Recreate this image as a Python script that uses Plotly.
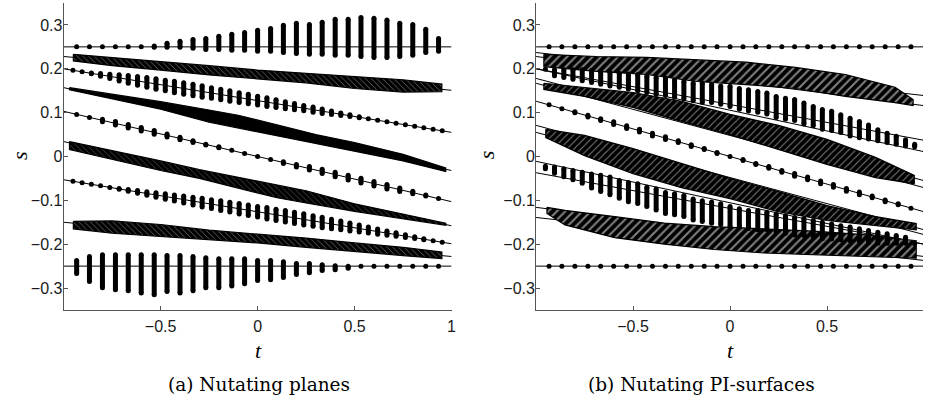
import plotly.graph_objects as go

# ---- sampling grids (column positions in t) ----
T29 = [-0.933, -0.867, -0.8, -0.733, -0.667, -0.6, -0.533, -0.467, -0.4, -0.333,
       -0.267, -0.2, -0.133, -0.067, 0.0, 0.067, 0.133, 0.2, 0.267, 0.333,
       0.4, 0.467, 0.533, 0.6, 0.667, 0.733, 0.8, 0.867, 0.933]
T41 = [-0.952, -0.905, -0.857, -0.81, -0.762, -0.714, -0.667, -0.619, -0.571, -0.524,
       -0.476, -0.429, -0.381, -0.333, -0.286, -0.238, -0.19, -0.143, -0.095, -0.048,
       0.0, 0.048, 0.095, 0.143, 0.19, 0.238, 0.286, 0.333, 0.381, 0.429,
       0.476, 0.524, 0.571, 0.619, 0.667, 0.714, 0.762, 0.81, 0.857, 0.905, 0.952]

# ---- panel (a): nutating planes ----
A_LINE_START = [0.25, 0.228, 0.200, 0.157, 0.103, 0.034, -0.053, -0.150, -0.25]
A_LINE_END = [0.25, 0.151, 0.055, -0.032, -0.103, -0.158, -0.199, -0.228, -0.25]

A1_HIGH = [0.25, 0.25, 0.25, 0.25, 0.25, 0.25, 0.252, 0.258, 0.263, 0.267, 0.269, 0.274, 0.279, 0.283, 0.288,
           0.292, 0.299, 0.304, 0.301, 0.306, 0.313, 0.313, 0.317, 0.315, 0.311, 0.304, 0.301, 0.290, 0.269]
A1_LOW = [0.25, 0.25, 0.25, 0.25, 0.25, 0.25, 0.249, 0.249, 0.249, 0.247, 0.244, 0.244, 0.242, 0.242, 0.240,
          0.240, 0.237, 0.235, 0.233, 0.233, 0.231, 0.231, 0.228, 0.226, 0.226, 0.228, 0.231, 0.237, 0.240]

A3_MID = [0.1965, 0.1931, 0.1896, 0.1862, 0.1827, 0.1793, 0.1758, 0.1724, 0.1689, 0.1655, 0.1620,
          0.1586, 0.1551, 0.1517, 0.1482, 0.1448, 0.1413, 0.1379, 0.1344, 0.1310, 0.1275, 0.1240,
          0.1206, 0.1171, 0.1137, 0.1102, 0.1068, 0.1033, 0.0999, 0.0964, 0.0930, 0.0895, 0.0861,
          0.0826, 0.0792, 0.0757, 0.0723, 0.0688, 0.0654, 0.0619, 0.0585]
A3_HALF = [0, 0, 0.001, 0.003, 0.005, 0.007, 0.009, 0.010, 0.011, 0.012, 0.012, 0.013, 0.013, 0.013,
           0.013, 0.012, 0.012, 0.012, 0.011, 0.011, 0.010, 0.010, 0.009, 0.008, 0.007, 0.006, 0.006,
           0.005, 0.004, 0.003, 0.002, 0.001, 0, 0, 0, 0, 0, 0, 0, 0, 0]

A5_MID = [0.096, 0.089, 0.082, 0.076, 0.069, 0.062, 0.055, 0.048, 0.041, 0.034, 0.027, 0.021, 0.014, 0.007,
          0.0, -0.007, -0.014, -0.021, -0.027, -0.034, -0.041, -0.048, -0.055, -0.062, -0.069, -0.076,
          -0.082, -0.089, -0.096]
A5_HALF = [0, 0, 0.003, 0.004, 0.004, 0.004, 0.004, 0.0035, 0.003, 0.002, 0.001, 0.001, 0, 0, 0, 0,
           0.002, 0.003, 0.004, 0.005, 0.005, 0.0055, 0.0055, 0.005, 0.005, 0.004, 0.003, 0.001, 0]

A7_MID = [-0.0565, -0.0600, -0.0634, -0.0669, -0.0704, -0.0739, -0.0773, -0.0808, -0.0843, -0.0878,
          -0.0912, -0.0947, -0.0982, -0.1017, -0.1051, -0.1086, -0.1121, -0.1156, -0.1190, -0.1225,
          -0.1260, -0.1295, -0.1330, -0.1364, -0.1399, -0.1434, -0.1469, -0.1503, -0.1538, -0.1573,
          -0.1608, -0.1642, -0.1677, -0.1712, -0.1747, -0.1781, -0.1816, -0.1851, -0.1886, -0.1920, -0.1955]
A7_HALF = [0, 0, 0, 0, 0, 0.001, 0.002, 0.003, 0.004, 0.005, 0.006, 0.007, 0.008, 0.009, 0.010, 0.010,
           0.011, 0.011, 0.012, 0.012, 0.012, 0.013, 0.013, 0.013, 0.013, 0.013, 0.012, 0.012, 0.011,
           0.010, 0.009, 0.008, 0.007, 0.006, 0.005, 0.004, 0.003, 0.002, 0.001, 0, 0]

A9_HIGH = [-0.237, -0.228, -0.224, -0.224, -0.224, -0.224, -0.224, -0.226, -0.226, -0.228, -0.231, -0.233,
           -0.233, -0.233, -0.237, -0.237, -0.240, -0.244, -0.244, -0.247, -0.249, -0.25, -0.25, -0.25,
           -0.25, -0.25, -0.25, -0.25, -0.25]
A9_LOW = [-0.267, -0.285, -0.299, -0.304, -0.306, -0.311, -0.315, -0.308, -0.311, -0.306, -0.299, -0.299,
          -0.295, -0.290, -0.283, -0.281, -0.276, -0.269, -0.265, -0.260, -0.258, -0.255, -0.25, -0.25,
          -0.25, -0.25, -0.25, -0.25, -0.25]

A2_T = [-0.95, -0.75, -0.5, -0.25, 0.0, 0.25, 0.5, 0.75, 0.95]
A2_UP = [0.233, 0.226, 0.217, 0.207, 0.197, 0.190, 0.182, 0.175, 0.165]
A2_DN = [0.218, 0.207, 0.197, 0.186, 0.177, 0.168, 0.155, 0.147, 0.148]
A4_T = [-0.97, -0.75, -0.5, -0.25, -0.1, 0.1, 0.3, 0.5, 0.75, 0.97]
A4_UP = [0.157, 0.142, 0.125, 0.106, 0.094, 0.072, 0.050, 0.032, 0.005, -0.026]
A4_DN = [0.152, 0.132, 0.108, 0.078, 0.066, 0.048, 0.030, 0.012, -0.010, -0.034]
A6_T = [-0.97, -0.75, -0.5, -0.3, -0.1, 0.1, 0.25, 0.5, 0.75, 0.97]
A6_UP = [0.034, 0.014, -0.010, -0.030, -0.048, -0.066, -0.078, -0.108, -0.132, -0.152]
A6_DN = [0.016, -0.006, -0.032, -0.050, -0.072, -0.094, -0.106, -0.125, -0.142, -0.157]
A8_T = [-0.95, -0.75, -0.5, -0.25, 0.0, 0.25, 0.5, 0.75, 0.95]
A8_UP = [-0.148, -0.147, -0.155, -0.168, -0.177, -0.186, -0.197, -0.207, -0.218]
A8_DN = [-0.165, -0.175, -0.182, -0.190, -0.197, -0.207, -0.217, -0.226, -0.233]

# ---- panel (b): nutating PI-surfaces ----
B_LINE_START = [0.25, 0.237, 0.228, 0.2, 0.2, 0.178, 0.167, 0.126, 0.071, 0.055, -0.011, -0.037,
                -0.116, -0.139, -0.25]
B_LINE_END = [0.25, 0.139, 0.116, 0.037, 0.011, -0.055, -0.071, -0.126, -0.167, -0.178, -0.2, -0.2,
              -0.228, -0.237, -0.25]

B1_S = [0.25] * 29
B9_S = [-0.25] * 29

B3_HIGH = [0.199, 0.198, 0.198, 0.198, 0.198, 0.196, 0.194, 0.192, 0.190, 0.188, 0.187, 0.183, 0.180,
           0.179, 0.175, 0.171, 0.167, 0.167, 0.164, 0.161, 0.160, 0.155, 0.152, 0.148, 0.145, 0.137,
           0.133, 0.130, 0.122, 0.114, 0.107, 0.103, 0.095, 0.087, 0.080, 0.072, 0.061, 0.053, 0.046,
           0.038, 0.028]
B3_LOW = [0.199, 0.184, 0.180, 0.176, 0.173, 0.169, 0.165, 0.161, 0.158, 0.154, 0.150, 0.146, 0.142,
          0.139, 0.135, 0.131, 0.127, 0.123, 0.123, 0.119, 0.114, 0.108, 0.104, 0.101, 0.097, 0.089,
          0.085, 0.082, 0.074, 0.070, 0.062, 0.059, 0.055, 0.047, 0.043, 0.040, 0.036, 0.032, 0.028,
          0.024, 0.022]

B5_MID = [0.118, 0.109, 0.101, 0.092, 0.084, 0.076, 0.067, 0.059, 0.050, 0.042, 0.034, 0.025, 0.017,
          0.008, 0.0, -0.008, -0.017, -0.025, -0.034, -0.042, -0.050, -0.059, -0.067, -0.076, -0.084,
          -0.092, -0.101, -0.109, -0.118]
B5_HALF = [0, 0, 0.001, 0.002, 0.002, 0.003, 0.003, 0.003, 0.003, 0.003, 0.002, 0.002, 0.001, 0.001,
           0, 0.001, 0.001, 0.002, 0.002, 0.003, 0.003, 0.003, 0.003, 0.003, 0.003, 0.002, 0.002, 0.001, 0]

B7_HIGH = [-0.022, -0.024, -0.028, -0.032, -0.036, -0.040, -0.043, -0.047, -0.055, -0.059, -0.062,
           -0.070, -0.074, -0.082, -0.085, -0.089, -0.097, -0.101, -0.104, -0.108, -0.114, -0.119,
           -0.123, -0.123, -0.127, -0.131, -0.135, -0.139, -0.142, -0.146, -0.150, -0.154, -0.158,
           -0.161, -0.165, -0.169, -0.173, -0.176, -0.180, -0.184, -0.199]
B7_LOW = [-0.028, -0.038, -0.046, -0.053, -0.061, -0.072, -0.080, -0.087, -0.095, -0.103, -0.107,
          -0.114, -0.122, -0.130, -0.133, -0.137, -0.145, -0.148, -0.152, -0.155, -0.160, -0.161,
          -0.164, -0.167, -0.167, -0.171, -0.175, -0.179, -0.180, -0.183, -0.187, -0.188, -0.190,
          -0.192, -0.194, -0.196, -0.198, -0.198, -0.198, -0.198, -0.199]

B2_T = [-0.96, -0.687, -0.43, -0.174, 0.082, 0.338, 0.595, 0.851, 0.944]
B2_UP = [0.233, 0.228, 0.226, 0.221, 0.215, 0.203, 0.187, 0.158, 0.130]
B2_DN = [0.205, 0.194, 0.187, 0.171, 0.164, 0.155, 0.137, 0.123, 0.116]
B4_T = [-0.96, -0.75, -0.5, -0.25, 0.0, 0.25, 0.5, 0.75, 0.95]
B4_UP = [0.167, 0.158, 0.146, 0.126, 0.096, 0.071, 0.039, -0.002, -0.043]
B4_DN = [0.153, 0.137, 0.112, 0.080, 0.050, 0.016, -0.018, -0.048, -0.062]
B6_T = [-0.95, -0.75, -0.5, -0.25, 0.0, 0.25, 0.5, 0.75, 0.96]
B6_UP = [0.062, 0.048, 0.018, -0.016, -0.050, -0.080, -0.112, -0.137, -0.153]
B6_DN = [0.043, 0.002, -0.039, -0.071, -0.096, -0.126, -0.146, -0.158, -0.167]
B8_T = [-0.944, -0.851, -0.595, -0.338, -0.082, 0.174, 0.43, 0.687, 0.96]
B8_UP = [-0.116, -0.123, -0.137, -0.152, -0.160, -0.165, -0.170, -0.178, -0.192]
B8_DN = [-0.130, -0.156, -0.185, -0.200, -0.212, -0.220, -0.225, -0.228, -0.232]

Y_TICKS = [-0.3, -0.2, -0.1, 0.0, 0.1, 0.2, 0.3]
Y_TICK_TEXT = ["\u22120.3", "\u22120.2", "\u22120.1", "0", "0.1", "0.2", "0.3"]
X_TICKS = [-0.5, 0.0, 0.5, 1.0]
X_TICK_TEXT = ["\u22120.5", "0", "0.5", "1"]

INK = "black"
DOT = 5.0


def fit_lines(starts, ends, xa, ya):
    xs, ys = [], []
    for a, b in zip(starts, ends):
        xs += [-1.0, 1.0, None]
        ys += [a, b, None]
    return go.Scatter(x=xs, y=ys, mode="lines", line=dict(color=INK, width=1),
                      xaxis=xa, yaxis=ya, hoverinfo="skip")


def columns(t, low, high, xa, ya):
    xs, ys, mx, my = [], [], [], []
    for ti, lo, hi in zip(t, low, high):
        if hi - lo > 1e-6:
            xs += [ti, ti, None]
            ys += [lo, hi, None]
            mx += [ti, ti]
            my += [lo, hi]
        else:
            mx.append(ti)
            my.append(lo)
    bars = go.Scatter(x=xs, y=ys, mode="lines", line=dict(color=INK, width=DOT),
                      xaxis=xa, yaxis=ya, hoverinfo="skip")
    caps = go.Scatter(x=mx, y=my, mode="markers", marker=dict(color=INK, size=DOT, line=dict(width=0)),
                      xaxis=xa, yaxis=ya, hoverinfo="skip")
    return [bars, caps]


def mid_columns(t, mid, half, xa, ya):
    low = [m - h for m, h in zip(mid, half)]
    high = [m + h for m, h in zip(mid, half)]
    return columns(t, low, high, xa, ya)


def ribbon(t, up, dn, xa, ya, shape, size, gap):
    """Dense band of dots drawn as a dark ribbon; gap > 0 cuts thin white streaks into it."""
    xs = list(t) + list(reversed(t)) + [t[0]]
    ys = list(up) + list(reversed(dn)) + [up[0]]
    kw = dict(x=xs, y=ys, mode="lines", fill="toself", line=dict(color=INK, width=1.2),
              fillcolor=INK, xaxis=xa, yaxis=ya, hoverinfo="skip")
    if gap > 0:
        kw["fillpattern"] = dict(shape=shape, fgcolor="white", bgcolor=INK, size=size, solidity=gap)
    return go.Scatter(**kw)


traces = []
# panel (a)
traces.append(fit_lines(A_LINE_START, A_LINE_END, "x", "y"))
traces.append(ribbon(A2_T, A2_UP, A2_DN, "x", "y", "\\", 4, 0.18))
traces.append(ribbon(A4_T, A4_UP, A4_DN, "x", "y", "\\", 4, 0))
traces.append(ribbon(A6_T, A6_UP, A6_DN, "x", "y", "\\", 4, 0.12))
traces.append(ribbon(A8_T, A8_UP, A8_DN, "x", "y", "\\", 4, 0.18))
traces += columns(T29, A1_LOW, A1_HIGH, "x", "y")
traces += mid_columns(T41, A3_MID, A3_HALF, "x", "y")
traces += mid_columns(T29, A5_MID, A5_HALF, "x", "y")
traces += mid_columns(T41, A7_MID, A7_HALF, "x", "y")
traces += columns(T29, A9_LOW, A9_HIGH, "x", "y")
# panel (b)
traces.append(fit_lines(B_LINE_START, B_LINE_END, "x2", "y2"))
traces.append(ribbon(B2_T, B2_UP, B2_DN, "x2", "y2", "/", 6, 0.35))
traces.append(ribbon(B4_T, B4_UP, B4_DN, "x2", "y2", "/", 5, 0.2))
traces.append(ribbon(B6_T, B6_UP, B6_DN, "x2", "y2", "/", 5, 0.2))
traces.append(ribbon(B8_T, B8_UP, B8_DN, "x2", "y2", "/", 6, 0.35))
traces += columns(T29, B1_S, B1_S, "x2", "y2")
traces += columns(T41, B3_LOW, B3_HIGH, "x2", "y2")
traces += mid_columns(T29, B5_MID, B5_HALF, "x2", "y2")
traces += columns(T41, B7_LOW, B7_HIGH, "x2", "y2")
traces += columns(T29, B9_S, B9_S, "x2", "y2")

fig = go.Figure(traces)

tick_font = dict(family="Liberation Sans, Arial, sans-serif", size=16, color="#1a1a1a")
axis_common = dict(showgrid=False, zeroline=False, showline=True, linecolor="#555555", linewidth=1,
                   ticks="inside", ticklen=4, tickcolor="#555555", tickfont=tick_font, mirror=False)
xcommon = dict(axis_common, tickvals=X_TICKS, ticktext=X_TICK_TEXT, ticklabelstandoff=2)
ycommon = dict(axis_common, tickvals=Y_TICKS, ticktext=Y_TICK_TEXT, range=[-0.35, 0.35],
               ticklabelstandoff=-3)

fig.update_layout(
    width=928, height=405, margin=dict(l=0, r=0, t=0, b=0),
    paper_bgcolor="white", plot_bgcolor="white", showlegend=False,
    xaxis=dict(xcommon, domain=[64 / 928, 454 / 928], range=[-1.0, 1.0], anchor="y"),
    yaxis=dict(ycommon, domain=[1 - 310 / 405, 1 - 3 / 405], anchor="x"),
    xaxis2=dict(xcommon, domain=[539 / 928, 1.0], range=[-1.0, 0.995], anchor="y2"),
    yaxis2=dict(ycommon, domain=[1 - 310 / 405, 1 - 3 / 405], anchor="x2"),
)

label_font = dict(family="Liberation Serif, Times New Roman, serif", size=22, color="black")
caption_font = dict(family="DejaVu Serif, serif", size=18.5, color="black")
ann = []
for tx, sx, cx, cap in [(260, 20, 260, "(a) Nutating planes"), (734, 490, 705, "(b) Nutating PI-surfaces")]:
    ann.append(dict(text="<i>t</i>", x=tx / 928, y=1 - 350 / 405, xref="paper", yref="paper",
                    showarrow=False, font=label_font, xanchor="center", yanchor="middle"))
    ann.append(dict(text="<i>s</i>", x=sx / 928, y=1 - 155 / 405, xref="paper", yref="paper",
                    showarrow=False, font=label_font, textangle=-90, xanchor="center", yanchor="middle"))
    ann.append(dict(text=cap, x=cx / 928, y=1 - 384 / 405, xref="paper", yref="paper",
                    showarrow=False, font=caption_font, xanchor="center", yanchor="middle"))
fig.update_layout(annotations=ann)

fig.write_html("out.html")
